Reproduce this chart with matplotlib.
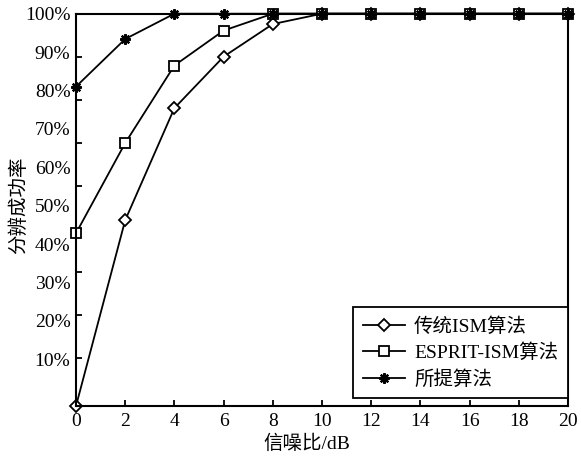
import matplotlib
matplotlib.use("Agg")
import matplotlib.pyplot as plt
import numpy as np
from matplotlib.ticker import FixedLocator, NullFormatter

# SNR (dB)
snr = [0, 2, 4, 6, 8, 10, 12, 14, 16, 18, 20]

# resolution success rate (%)
ism = [-2.2, 46.2, 75.4, 88.8, 97.3, 100, 100, 100, 100, 100, 100]
esprit_ism = [42.8, 66.3, 86.5, 95.6, 100, 100, 100, 100, 100, 100, 100]
proposed = [81.0, 93.4, 100, 100, 100, 100, 100, 100, 100, 100, 100]

series_names = ["传统ISM算法", "ESPRIT-ISM算法", "所提算法"]
x_ticks = [0, 2, 4, 6, 8, 10, 12, 14, 16, 18, 20]
y_ticks = [10, 20, 30, 40, 50, 60, 70, 80, 90, 100]
y_tick_labels = [f"{v}%" for v in y_ticks]

FONT = ["Liberation Serif", "Noto Sans CJK SC"]
plt.rcParams["font.family"] = FONT

fig = plt.figure(figsize=(5.81, 4.58), dpi=100)
ax = fig.add_axes([0.1308, 0.1135, 0.8468, 0.8566])

common = dict(color="black", linewidth=1.3, markeredgewidth=1.3, clip_on=False)
ax.plot(snr, ism, marker="D", markersize=6.5, markerfacecolor="white",
        label=series_names[0], **common)
ax.plot(snr, esprit_ism, marker="s", markersize=7, markerfacecolor="white",
        label=series_names[1], **common)
ax.plot(snr, proposed, marker=(8, 2, 0), markersize=7.5, markeredgecolor="black",
        label=series_names[2], color="black", linewidth=1.3,
        markeredgewidth=1.6, clip_on=False)

ax.set_xlim(0, 20)
ax.set_ylim(-2.2, 100)

ax.set_xticks(x_ticks)
ax.set_xticklabels([str(v) for v in x_ticks])

# labels sit on their own grid, the inward tick marks on a slightly wider one
ax.set_yticks(y_ticks)
ax.set_yticklabels(y_tick_labels)
ax.yaxis.set_minor_locator(FixedLocator(np.linspace(100, 10.4, 9)))
ax.yaxis.set_minor_formatter(NullFormatter())
ax.tick_params(axis="y", which="major", length=0, pad=4, labelsize=14)
ax.tick_params(axis="y", which="minor", direction="in", length=4, width=1.3)
ax.tick_params(axis="x", which="major", direction="in", length=4, width=1.3,
               pad=5, labelsize=14)
ax.tick_params(top=False, right=False)

for spine in ax.spines.values():
    spine.set_linewidth(1.5)

ax.set_xlabel("信噪比/dB", fontsize=14, va="center")
ax.set_ylabel("分辨成功率", fontsize=14, va="center")
ax.xaxis.set_label_coords(0.47, -0.097)
ax.yaxis.set_label_coords(-0.116, 0.512)

leg = ax.legend(loc="lower right", bbox_to_anchor=(1.0, 0.02), borderaxespad=0,
                fancybox=False, edgecolor="black", framealpha=1,
                fontsize=14, handlelength=2.2, handletextpad=0.45,
                labelspacing=0.4, borderpad=0.5)
leg.get_frame().set_linewidth(1.3)

fig.savefig("out.png", dpi=100)
